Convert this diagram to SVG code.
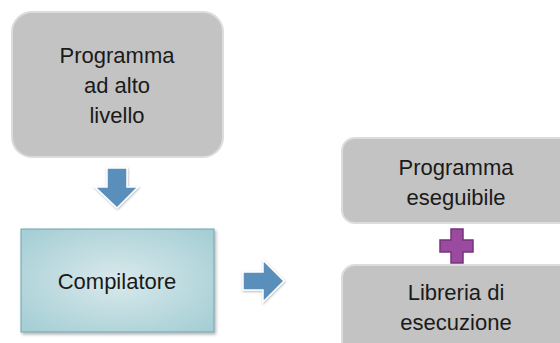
<svg xmlns="http://www.w3.org/2000/svg" width="560" height="343" viewBox="0 0 560 343">
  <style>
    .lbl { font-family: "Liberation Sans", Arial, sans-serif; font-size: 22px; fill: #1a1a1a; text-anchor: middle; }
    .gray { fill: #c3c3c3; stroke: #dcdcdc; stroke-width: 2; }
    .arrow { fill: #5a8fbb; stroke: #ffffff; stroke-width: 1.5; filter: url(#soft); }
    .plus { fill: #9a4a9f; stroke: #76337c; stroke-width: 1.5; }
  </style>
  <defs>
    <radialGradient id="teal" cx="50%" cy="50%" r="65%">
      <stop offset="0" stop-color="#d9e9ec"/>
      <stop offset="1" stop-color="#a6cfd5"/>
    </radialGradient>
    <filter id="soft" x="-30%" y="-30%" width="160%" height="160%">
      <feDropShadow dx="0.5" dy="1" stdDeviation="1.2" flood-color="#000" flood-opacity="0.3"/>
    </filter>
    <filter id="shadow" x="-10%" y="-10%" width="125%" height="125%">
      <feDropShadow dx="1.5" dy="2" stdDeviation="1.5" flood-color="#000" flood-opacity="0.3"/>
    </filter>
  </defs>

  <!-- source program -->
  <g id="source">
    <rect class="gray" x="12" y="12" width="211" height="145" rx="20"/>
    <text class="lbl" x="117" y="63">Programma</text>
    <text class="lbl" x="117" y="93">ad alto</text>
    <text class="lbl" x="117" y="123">livello</text>
  </g>

  <!-- compiler -->
  <g id="compiler">
    <rect x="21" y="229" width="193" height="103" fill="url(#teal)" stroke="#6ea4ac" stroke-width="1" filter="url(#shadow)"/>
    <text class="lbl" x="117" y="289">Compilatore</text>
  </g>

  <!-- executable program -->
  <g id="executable">
    <rect class="gray" x="342" y="138" width="240" height="85" rx="13"/>
    <text class="lbl" x="456" y="175">Programma</text>
    <text class="lbl" x="456" y="205">eseguibile</text>
  </g>

  <!-- runtime library -->
  <g id="runtime">
    <rect class="gray" x="342" y="265" width="240" height="100" rx="13"/>
    <text class="lbl" x="456" y="300">Libreria di</text>
    <text class="lbl" x="456" y="330">esecuzione</text>
  </g>

  <!-- connectors -->
  <g id="connectors">
    <path class="arrow" d="M107,168 H127 V187 H138 L117,208 L95,187 H107 Z"/>
    <path class="arrow" d="M243,272 H263 V260 L284,281 L263,302 V290 H243 Z"/>
    <path class="plus" d="M451,229 H463 V240 H473 V252 H463 V263 H451 V252 H440 V240 H451 Z"/>
  </g>
</svg>
